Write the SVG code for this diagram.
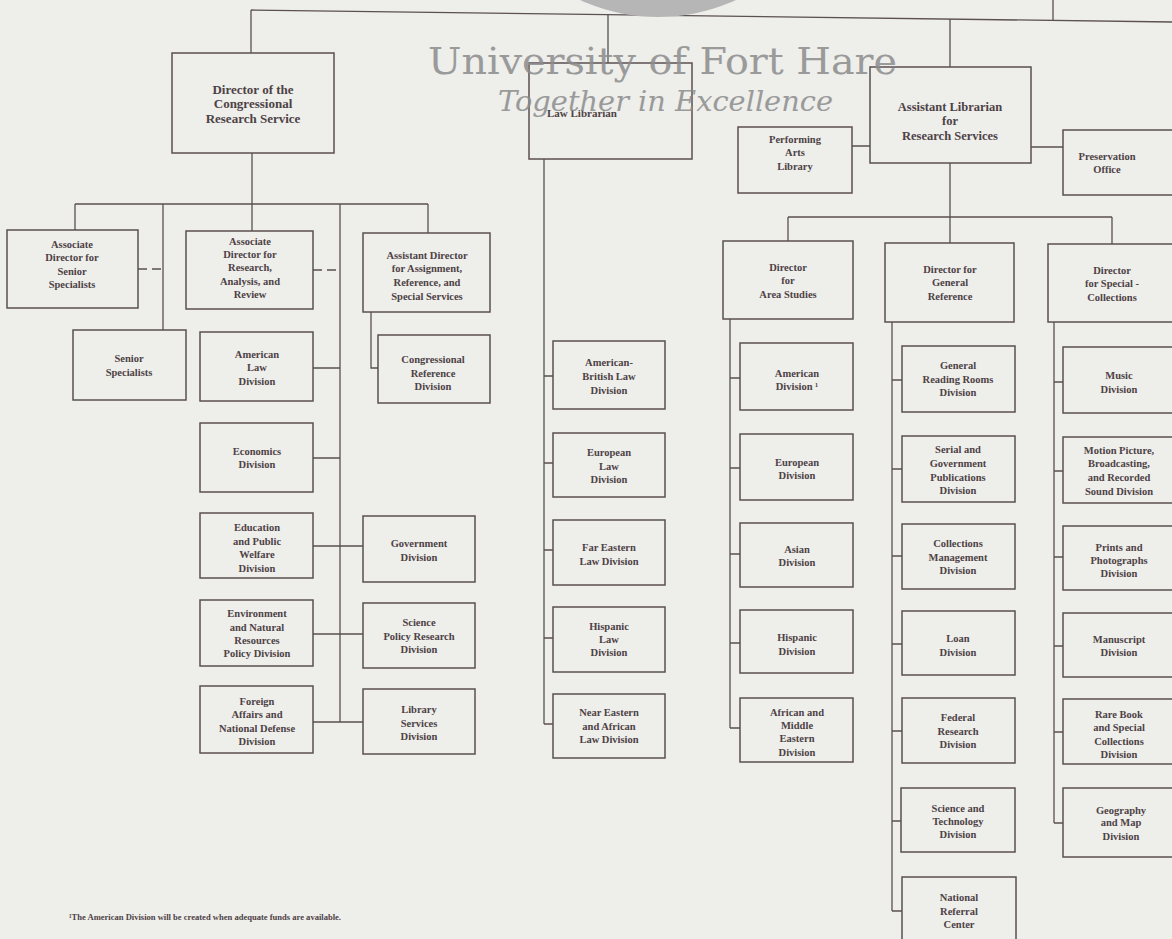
<svg xmlns="http://www.w3.org/2000/svg" width="1172" height="939" viewBox="0 0 1172 939">
<style>
.bg{fill:#eeeeeb}
.box{fill:none;stroke:#5b5052;stroke-width:1.5}
.ln{fill:none;stroke:#5b5052;stroke-width:1.3}
.dash{stroke-dasharray:9 5}
.t{font-family:"Liberation Serif","Times New Roman",serif;font-size:10.5px;font-weight:bold;fill:#4d4245;text-anchor:middle}
.tl{font-size:13px}
.wm{font-family:"DejaVu Serif","Liberation Serif",serif;fill:#8c8c8c;opacity:0.85}
.fn{font-family:"Liberation Serif","Times New Roman",serif;font-size:8px;font-weight:bold;fill:#4d4245}
</style>
<rect class="bg" x="0" y="0" width="1172" height="939"/>

<g id="connectors">
<path class="ln" d="M251 10 L1172 22"/>
<path class="ln" d="M251 10 V53 M608 14.7 V63 M950 19.1 V67 M1053 0 V20.4"/>
<path class="ln" d="M252 153 V231 M75 204 H428 M75 204 V230 M163 204 V330 M428 204 V233 M340 204 V722"/>
<path class="ln dash" d="M138 269 H163 M313 270 H340"/>
<path class="ln" d="M313 368 H340 M313 458 H340 M313 546 H363 M313 634 H363 M313 722 H363"/>
<path class="ln" d="M371 312 V368 H378"/>
<path class="ln" d="M544 159 V724 M544 376 H553 M544 463 H553 M544 550 H553 M544 638 H553 M544 724 H553"/>
<path class="ln" d="M852 146 H870 M1031 147 H1063"/>
<path class="ln" d="M950 163 V243 M788 217 H1112 M788 217 V241 M1112 217 V244"/>
<path class="ln" d="M730 319 V728 M730 378 H740 M730 468 H740 M730 554 H740 M730 643 H740 M730 728 H740"/>
<path class="ln" d="M892 322 V911 M892 380 H902 M892 469 H902 M892 556 H902 M892 644 H902 M892 731 H902 M892 821 H901 M892 911 H902"/>
<path class="ln" d="M1054 322 V823 M1054 382 H1063 M1054 471 H1063 M1054 557 H1063 M1054 646 H1063 M1054 732 H1063 M1054 823 H1063"/>
</g>

<g id="n-director-crs"><rect class="box" x="172" y="53" width="162" height="100"/>
<text class="t tl" x="253" y="94">Director of the</text><text class="t tl" x="253" y="108">Congressional</text><text class="t tl" x="253" y="123">Research Service</text></g>

<g id="n-law-librarian"><rect class="box" x="529" y="63" width="163" height="96"/>
<text class="t" x="582" y="117" style="font-size:11px">Law Librarian</text></g>

<g id="n-asst-librarian"><rect class="box" x="870" y="67" width="161" height="96"/>
<text class="t" x="950" y="110.5" style="font-size:12.5px">Assistant Librarian</text><text class="t" x="950" y="124.5" style="font-size:12.5px">for</text><text class="t" x="950" y="139.5" style="font-size:12.5px">Research Services</text></g>

<g id="n-performing-arts"><rect class="box" x="738" y="127" width="114" height="66"/>
<text class="t" x="795" y="143">Performing</text><text class="t" x="795" y="156">Arts</text><text class="t" x="795" y="170">Library</text></g>

<g id="n-preservation"><rect class="box" x="1063" y="130" width="120" height="65"/>
<text class="t" x="1107" y="160">Preservation</text><text class="t" x="1107" y="173">Office</text></g>

<g id="n-assoc-senior"><rect class="box" x="7" y="230" width="131" height="78"/>
<text class="t" x="72" y="248">Associate</text><text class="t" x="72" y="261">Director for</text><text class="t" x="72" y="275">Senior</text><text class="t" x="72" y="288">Specialists</text></g>

<g id="n-assoc-rar"><rect class="box" x="186" y="231" width="127" height="78"/>
<text class="t" x="250" y="245">Associate</text><text class="t" x="250" y="258">Director for</text><text class="t" x="250" y="271">Research,</text><text class="t" x="250" y="285">Analysis, and</text><text class="t" x="250" y="298">Review</text></g>

<g id="n-asst-director"><rect class="box" x="363" y="233" width="127" height="79"/>
<text class="t" x="427" y="259">Assistant Director</text><text class="t" x="427" y="272">for Assignment,</text><text class="t" x="427" y="286">Reference, and</text><text class="t" x="427" y="300">Special Services</text></g>

<g id="n-senior-specialists"><rect class="box" x="73" y="330" width="113" height="70"/>
<text class="t" x="129" y="362">Senior</text><text class="t" x="129" y="376">Specialists</text></g>

<g id="n-american-law"><rect class="box" x="200" y="332" width="113" height="69"/>
<text class="t" x="257" y="358">American</text><text class="t" x="257" y="371">Law</text><text class="t" x="257" y="385">Division</text></g>

<g id="n-congressional-ref"><rect class="box" x="378" y="335" width="112" height="68"/>
<text class="t" x="433" y="363">Congressional</text><text class="t" x="433" y="377">Reference</text><text class="t" x="433" y="390">Division</text></g>

<g id="n-economics"><rect class="box" x="200" y="423" width="113" height="69"/>
<text class="t" x="257" y="455">Economics</text><text class="t" x="257" y="468">Division</text></g>

<g id="n-education"><rect class="box" x="200" y="513" width="113" height="65"/>
<text class="t" x="257" y="531">Education</text><text class="t" x="257" y="545">and Public</text><text class="t" x="257" y="558">Welfare</text><text class="t" x="257" y="572">Division</text></g>

<g id="n-government"><rect class="box" x="363" y="516" width="112" height="66"/>
<text class="t" x="419" y="547">Government</text><text class="t" x="419" y="561">Division</text></g>

<g id="n-environment"><rect class="box" x="200" y="600" width="113" height="66"/>
<text class="t" x="257" y="617">Environment</text><text class="t" x="257" y="631">and Natural</text><text class="t" x="257" y="644">Resources</text><text class="t" x="257" y="657">Policy Division</text></g>

<g id="n-science-policy"><rect class="box" x="363" y="603" width="112" height="65"/>
<text class="t" x="419" y="626">Science</text><text class="t" x="419" y="640">Policy Research</text><text class="t" x="419" y="653">Division</text></g>

<g id="n-foreign-affairs"><rect class="box" x="200" y="686" width="113" height="67"/>
<text class="t" x="257" y="705">Foreign</text><text class="t" x="257" y="718">Affairs and</text><text class="t" x="257" y="732">National Defense</text><text class="t" x="257" y="745">Division</text></g>

<g id="n-library-services"><rect class="box" x="363" y="689" width="112" height="65"/>
<text class="t" x="419" y="713">Library</text><text class="t" x="419" y="727">Services</text><text class="t" x="419" y="740">Division</text></g>

<g id="n-american-british-law"><rect class="box" x="553" y="341" width="112" height="68"/>
<text class="t" x="609" y="366">American-</text><text class="t" x="609" y="380">British Law</text><text class="t" x="609" y="394">Division</text></g>

<g id="n-european-law"><rect class="box" x="553" y="433" width="112" height="64"/>
<text class="t" x="609" y="456">European</text><text class="t" x="609" y="470">Law</text><text class="t" x="609" y="483">Division</text></g>

<g id="n-far-eastern-law"><rect class="box" x="553" y="520" width="112" height="65"/>
<text class="t" x="609" y="551">Far Eastern</text><text class="t" x="609" y="565">Law Division</text></g>

<g id="n-hispanic-law"><rect class="box" x="553" y="607" width="112" height="65"/>
<text class="t" x="609" y="630">Hispanic</text><text class="t" x="609" y="643">Law</text><text class="t" x="609" y="656">Division</text></g>

<g id="n-near-eastern-law"><rect class="box" x="553" y="694" width="112" height="64"/>
<text class="t" x="609" y="716">Near Eastern</text><text class="t" x="609" y="730">and African</text><text class="t" x="609" y="743">Law Division</text></g>

<g id="n-dir-area"><rect class="box" x="723" y="241" width="130" height="78"/>
<text class="t" x="788" y="271">Director</text><text class="t" x="788" y="284">for</text><text class="t" x="788" y="298">Area Studies</text></g>

<g id="n-dir-general"><rect class="box" x="885" y="243" width="129" height="79"/>
<text class="t" x="950" y="273">Director for</text><text class="t" x="950" y="286">General</text><text class="t" x="950" y="300">Reference</text></g>

<g id="n-dir-special"><rect class="box" x="1048" y="244" width="135" height="78"/>
<text class="t" x="1112" y="274">Director</text><text class="t" x="1112" y="287">for Special -</text><text class="t" x="1112" y="301">Collections</text></g>

<g id="n-american-div"><rect class="box" x="740" y="343" width="113" height="67"/>
<text class="t" x="797" y="377">American</text><text class="t" x="797" y="390">Division ¹</text></g>

<g id="n-european-div"><rect class="box" x="740" y="434" width="113" height="66"/>
<text class="t" x="797" y="466">European</text><text class="t" x="797" y="479">Division</text></g>

<g id="n-asian-div"><rect class="box" x="740" y="523" width="113" height="64"/>
<text class="t" x="797" y="553">Asian</text><text class="t" x="797" y="566">Division</text></g>

<g id="n-hispanic-div"><rect class="box" x="740" y="610" width="113" height="63"/>
<text class="t" x="797" y="641">Hispanic</text><text class="t" x="797" y="655">Division</text></g>

<g id="n-african-div"><rect class="box" x="740" y="698" width="113" height="64"/>
<text class="t" x="797" y="716">African and</text><text class="t" x="797" y="729">Middle</text><text class="t" x="797" y="742">Eastern</text><text class="t" x="797" y="756">Division</text></g>

<g id="n-general-reading"><rect class="box" x="902" y="346" width="113" height="66"/>
<text class="t" x="958" y="369">General</text><text class="t" x="958" y="383">Reading Rooms</text><text class="t" x="958" y="396">Division</text></g>

<g id="n-serial"><rect class="box" x="902" y="436" width="113" height="66"/>
<text class="t" x="958" y="453">Serial and</text><text class="t" x="958" y="467">Government</text><text class="t" x="958" y="481">Publications</text><text class="t" x="958" y="494">Division</text></g>

<g id="n-collections-mgmt"><rect class="box" x="902" y="524" width="113" height="65"/>
<text class="t" x="958" y="547">Collections</text><text class="t" x="958" y="561">Management</text><text class="t" x="958" y="574">Division</text></g>

<g id="n-loan"><rect class="box" x="902" y="611" width="113" height="64"/>
<text class="t" x="958" y="642">Loan</text><text class="t" x="958" y="656">Division</text></g>

<g id="n-federal-research"><rect class="box" x="902" y="698" width="113" height="65"/>
<text class="t" x="958" y="721">Federal</text><text class="t" x="958" y="735">Research</text><text class="t" x="958" y="748">Division</text></g>

<g id="n-science-tech"><rect class="box" x="901" y="788" width="114" height="64"/>
<text class="t" x="958" y="812">Science and</text><text class="t" x="958" y="825">Technology</text><text class="t" x="958" y="838">Division</text></g>

<g id="n-national-referral"><rect class="box" x="902" y="877" width="114" height="70"/>
<text class="t" x="959" y="901">National</text><text class="t" x="959" y="915">Referral</text><text class="t" x="959" y="928">Center</text></g>

<g id="n-music"><rect class="box" x="1063" y="347" width="120" height="66"/>
<text class="t" x="1119" y="379">Music</text><text class="t" x="1119" y="393">Division</text></g>

<g id="n-motion-picture"><rect class="box" x="1063" y="437" width="120" height="66"/>
<text class="t" x="1119" y="454">Motion Picture,</text><text class="t" x="1119" y="467">Broadcasting,</text><text class="t" x="1119" y="481">and Recorded</text><text class="t" x="1119" y="495">Sound Division</text></g>

<g id="n-prints"><rect class="box" x="1063" y="526" width="120" height="64"/>
<text class="t" x="1119" y="551">Prints and</text><text class="t" x="1119" y="564">Photographs</text><text class="t" x="1119" y="577">Division</text></g>

<g id="n-manuscript"><rect class="box" x="1063" y="613" width="120" height="64"/>
<text class="t" x="1119" y="643">Manuscript</text><text class="t" x="1119" y="656">Division</text></g>

<g id="n-rare-book"><rect class="box" x="1063" y="699" width="120" height="65"/>
<text class="t" x="1119" y="718">Rare Book</text><text class="t" x="1119" y="731">and Special</text><text class="t" x="1119" y="745">Collections</text><text class="t" x="1119" y="758">Division</text></g>

<g id="n-geography"><rect class="box" x="1063" y="788" width="120" height="69"/>
<text class="t" x="1121" y="814">Geography</text><text class="t" x="1121" y="826">and Map</text><text class="t" x="1121" y="840">Division</text></g>

<text class="fn" x="69" y="920" textLength="272" lengthAdjust="spacingAndGlyphs">¹The American Division will be created when adequate funds are available.</text>

<g id="watermark">
<circle cx="658" cy="-170" r="187" fill="#b6b6b6"/>
<text class="wm" x="428" y="74" font-size="38" textLength="469" lengthAdjust="spacingAndGlyphs">University of Fort Hare</text>
<text class="wm" x="498" y="111" font-size="28" font-style="italic" textLength="335" lengthAdjust="spacingAndGlyphs">Together in Excellence</text>
</g>
</svg>
